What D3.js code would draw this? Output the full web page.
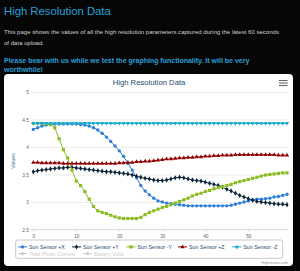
<!DOCTYPE html>
<html>
<head>
<meta charset="utf-8">
<script src="https://cdn.jsdelivr.net/npm/d3@7"></script>
<style>
  html, body { margin: 0; padding: 0; background: #060606; }
  svg { display: block; }
  text { font-family: "Liberation Sans", Arial, sans-serif; }
</style>
</head>
<body>
<div id="page"></div>
<script>
// seconds 0..59
var seconds = d3.range(0, 60);

var sunPlusX = [4.32,4.35,4.38,4.40,4.41,4.42,4.42,4.42,4.42,4.42,4.42,4.41,4.40,4.38,4.35,4.31,4.25,4.18,4.10,4.02,
  3.93,3.83,3.70,3.58,3.44,3.30,3.20,3.13,3.07,3.02,3.00,2.98,2.97,2.96,2.95,2.94,2.93,2.93,2.93,2.93,
  2.93,2.93,2.93,2.93,2.93,2.93,2.94,2.96,2.98,3.00,3.02,3.04,3.05,3.05,3.06,3.07,3.09,3.10,3.12,3.14];
var sunPlusY = [3.55,3.57,3.58,3.59,3.60,3.61,3.62,3.62,3.63,3.63,3.62,3.61,3.60,3.59,3.58,3.57,3.56,3.55,3.55,3.54,
  3.53,3.52,3.51,3.49,3.47,3.45,3.43,3.42,3.40,3.39,3.39,3.40,3.42,3.44,3.45,3.44,3.42,3.40,3.39,3.38,
  3.36,3.34,3.32,3.30,3.27,3.23,3.20,3.16,3.12,3.09,3.06,3.03,3.01,3.00,2.99,2.98,2.97,2.96,2.96,2.95];
var sunMinusY = [4.43,4.43,4.43,4.42,4.41,4.35,4.15,3.95,3.80,3.58,3.38,3.30,3.19,3.05,2.92,2.84,2.81,2.79,2.76,2.73,
  2.71,2.70,2.70,2.70,2.70,2.72,2.77,2.81,2.84,2.87,2.90,2.92,2.95,2.98,3.01,3.04,3.07,3.11,3.14,3.16,
  3.19,3.21,3.24,3.26,3.28,3.30,3.32,3.35,3.37,3.39,3.41,3.43,3.45,3.47,3.49,3.50,3.51,3.52,3.53,3.53];
var sunPlusZ = [3.72,3.72,3.71,3.71,3.71,3.71,3.71,3.70,3.70,3.70,3.70,3.70,3.70,3.70,3.70,3.70,3.70,3.70,3.70,3.70,
  3.71,3.71,3.72,3.72,3.73,3.73,3.74,3.74,3.75,3.76,3.77,3.78,3.78,3.79,3.80,3.80,3.81,3.81,3.82,3.82,
  3.83,3.83,3.84,3.84,3.85,3.85,3.85,3.86,3.86,3.86,3.86,3.86,3.86,3.86,3.86,3.86,3.86,3.85,3.85,3.85];
var sunMinusZ = [4.43,4.43,4.43,4.43,4.43,4.43,4.43,4.43,4.43,4.43,4.43,4.43,4.43,4.43,4.43,4.43,4.43,4.43,4.43,4.43,
  4.43,4.43,4.43,4.43,4.43,4.43,4.43,4.43,4.43,4.43,4.43,4.43,4.43,4.43,4.43,4.43,4.43,4.43,4.43,4.43,
  4.43,4.43,4.43,4.43,4.43,4.43,4.43,4.43,4.43,4.43,4.43,4.43,4.43,4.43,4.43,4.43,4.43,4.43,4.43,4.43];

var seriesNames = ["Sun Sensor +X", "Sun Sensor +Y", "Sun Sensor -Y", "Sun Sensor +Z", "Sun Sensor -Z",
  "Total Photo Current", "Battery Volts"];
var seriesValues = [sunPlusX, sunPlusY, sunMinusY, sunPlusZ, sunMinusZ, null, null];
var seriesColors = ["#2f7ed8", "#0d233a", "#8bbc21", "#910000", "#1aadce", "#cccccc", "#cccccc"];
var seriesSymbols = ["circle", "diamond", "square", "triangle", "triangleDown", "circle", "circle"];

var yTicks = [2.5, 3, 3.5, 4, 4.5, 5];
var xTicks = [0, 10, 20, 30, 40, 50];

var pageTitle = "High Resolution Data";
var introLines = ["This page shows the values of all the high resolution parameters captured during the latest 60 seconds",
  "of data upload."];
var noteLines = ["Please bear with us while we test the graphing functionality. It will be very", "worthwhile!"];

var W = 300, H = 271;
var plot = { left: 31, right: 288, top: 92, bottom: 229.5 };

var svg = d3.select("#page").append("svg").attr("width", W).attr("height", H);

// page header
svg.append("text").attr("x", 4).attr("y", 15).attr("fill", "#2a9fd6")
  .style("font-size", "11.3px").text(pageTitle);
svg.selectAll(".intro").data(introLines).enter().append("text")
  .attr("x", 4).attr("y", (d, i) => 34.4 + i * 10.4)
  .attr("fill", "#cfcfcf").style("font-size", "6.05px").text(d => d);
svg.selectAll(".note").data(noteLines).enter().append("text")
  .attr("x", 4).attr("y", (d, i) => 62.5 + i * 9)
  .attr("fill", "#2a9fd6").style("font-size", "7px").style("font-weight", "bold").text(d => d);

// chart box
svg.append("rect").attr("x", 4).attr("y", 74).attr("width", 289).attr("height", 192)
  .attr("rx", 4).attr("fill", "#ffffff");

svg.append("text").attr("x", 149).attr("y", 85).attr("text-anchor", "middle")
  .attr("fill", "#274b6d").style("font-size", "7.7px").text(pageTitle);

// menu icon
svg.append("g").selectAll("line").data([80.5, 83, 85.5]).enter().append("line")
  .attr("x1", 279).attr("x2", 287.5).attr("y1", d => d).attr("y2", d => d)
  .attr("stroke", "#666").attr("stroke-width", 1.1);

var x = d3.scaleLinear().domain([0, 59]).range([33.3, 287]);
var y = d3.scaleLinear().domain([2.5, 5]).range([plot.bottom, plot.top]);

// y grid + labels
var yAxis = svg.append("g").attr("transform", `translate(${plot.left},0)`)
  .call(d3.axisLeft(y).tickValues(yTicks).tickSize(-(plot.right - plot.left)).tickPadding(2)
    .tickFormat(d3.format("")));
yAxis.select(".domain").remove();
yAxis.selectAll(".tick line").attr("stroke", "#e0e0e0").attr("stroke-width", 0.6);
yAxis.selectAll(".tick text").attr("fill", "#666").style("font-size", "4.8px")
  .style("font-family", "'Liberation Sans', Arial, sans-serif");

// x axis
var xAxis = svg.append("g").attr("transform", `translate(0,${plot.bottom})`)
  .call(d3.axisBottom(x).tickValues(xTicks).tickSize(2.2).tickPadding(2.5));
xAxis.select(".domain").attr("d", `M${plot.left},0H${plot.right}`).attr("stroke", "#c0d0e0").attr("stroke-width", 0.6);
xAxis.selectAll(".tick line").attr("stroke", "#c0d0e0").attr("stroke-width", 0.6);
xAxis.selectAll(".tick text").attr("fill", "#666").style("font-size", "4.8px")
  .style("font-family", "'Liberation Sans', Arial, sans-serif");

svg.append("text").attr("transform", "translate(15,161) rotate(-90)")
  .attr("text-anchor", "middle").attr("fill", "#4d759e").style("font-size", "5.2px").text("Values");

// marker shapes
function symbolPath(name, size) {
  if (name === "triangleDown") return d3.symbol(d3.symbolTriangle, size)();
  var t = { circle: d3.symbolCircle, diamond: d3.symbolDiamond, square: d3.symbolSquare, triangle: d3.symbolTriangle }[name];
  return d3.symbol(t, size)();
}
var symbolSizes = { circle: 9, diamond: 8, square: 10, triangle: 8, triangleDown: 8 };

var line = d3.line().x((d, i) => x(seconds[i])).y(d => y(d));

var visible = seriesValues.map((v, i) => ({ v: v, i: i })).filter(d => d.v);
var groups = svg.append("g").selectAll("g").data(visible).enter().append("g");
groups.append("path").attr("d", d => line(d.v)).attr("fill", "none")
  .attr("stroke", d => seriesColors[d.i]).attr("stroke-width", 1);
groups.each(function (s) {
  d3.select(this).selectAll(".m").data(s.v).enter().append("path")
    .attr("d", symbolPath(seriesSymbols[s.i], symbolSizes[seriesSymbols[s.i]]))
    .attr("transform", (d, k) => `translate(${x(seconds[k])},${y(d)})` +
      (seriesSymbols[s.i] === "triangleDown" ? " rotate(180)" : ""))
    .attr("fill", seriesColors[s.i]);
});

// legend
svg.append("rect").attr("x", 15.7).attr("y", 240).attr("width", 267).attr("height", 18.3)
  .attr("rx", 2).attr("fill", "none").attr("stroke", "#909090").attr("stroke-width", 0.5);
var legendPos = [[18, 246.9], [72, 246.9], [126.5, 246.9], [178, 246.9], [232.3, 246.9], [18, 253.6], [83, 253.6]];
var items = svg.append("g").selectAll("g").data(seriesNames).enter().append("g")
  .attr("transform", (d, i) => `translate(${legendPos[i][0]},${legendPos[i][1]})`);
items.append("line").attr("x1", 0).attr("x2", 9).attr("stroke", (d, i) => seriesColors[i]).attr("stroke-width", 1);
items.append("path").attr("d", (d, i) => symbolPath(seriesSymbols[i], symbolSizes[seriesSymbols[i]]))
  .attr("transform", (d, i) => "translate(4.5,0)" + (seriesSymbols[i] === "triangleDown" ? " rotate(180)" : ""))
  .attr("fill", (d, i) => seriesColors[i]);
items.append("text").attr("x", 11).attr("y", 1.9).attr("fill", (d, i) => i < 5 ? "#274b6d" : "#cccccc")
  .style("font-size", "5.3px").text(d => d);

svg.append("text").attr("x", 288).attr("y", 264).attr("text-anchor", "end")
  .attr("fill", "#909090").style("font-size", "3.8px").text("Highcharts.com");
</script>
</body>
</html>
